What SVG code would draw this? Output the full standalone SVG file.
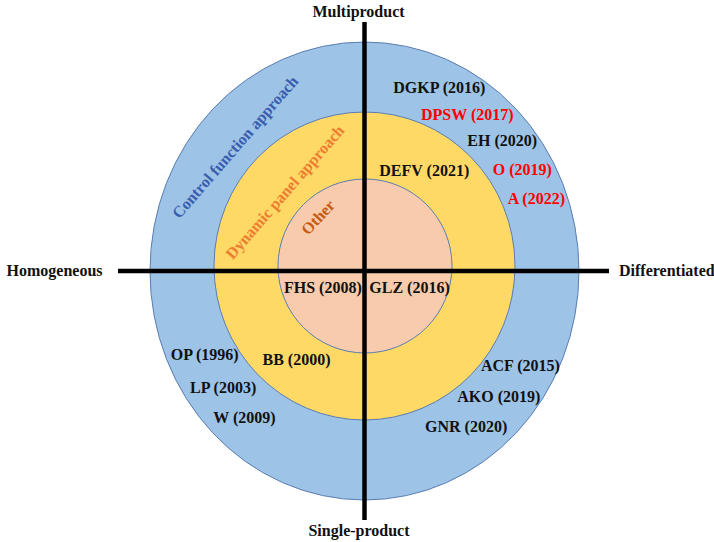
<svg xmlns="http://www.w3.org/2000/svg" width="714" height="542" viewBox="0 0 714 542">
<style>
  text { font-family: "Liberation Serif", "Times New Roman", serif; font-weight: bold; font-size: 16px; fill: #111; }
  .red { fill: #FF0000; }
  .ring { stroke: #5B7DB1; stroke-width: 1; }
  .axis { stroke: #000; stroke-width: 4.5; fill: none; }
</style>
<rect width="714" height="542" fill="#ffffff"/>
<g id="control-function">
  <ellipse class="ring" cx="364.5" cy="271" rx="214.5" ry="229" fill="#9DC3E6"/>
  <text transform="translate(239.2,150.6) rotate(-49)" text-anchor="middle" style="fill:#3A5DAE">Control function approach</text>
</g>
<g id="dynamic-panel">
  <ellipse class="ring" cx="364.5" cy="266" rx="150.5" ry="154" fill="#FFD966"/>
  <text transform="translate(289,195.6) rotate(-49)" text-anchor="middle" style="fill:#ED7D31">Dynamic panel approach</text>
</g>
<g id="other">
  <ellipse class="ring" cx="365" cy="266" rx="87" ry="87" fill="#F8CBAD"/>
  <text transform="translate(322,221) rotate(-47)" text-anchor="middle" style="fill:#C55A11">Other</text>
</g>
<g id="connectors">
  <line class="axis" x1="364.5" y1="22" x2="364.5" y2="520"/>
  <line class="axis" x1="118" y1="271" x2="609" y2="271"/>
</g>
<g id="axis-labels">
  <text x="358.5" y="17" text-anchor="middle">Multiproduct</text>
  <text x="6.5" y="275.5">Homogeneous</text>
  <text x="619" y="275.5">Differentiated</text>
  <text x="359" y="535.5" text-anchor="middle">Single-product</text>
</g>
<g id="studies">
  <text x="393.3" y="93">DGKP (2016)</text>
  <text x="421" y="119.5" class="red">DPSW (2017)</text>
  <text x="467.3" y="146">EH (2020)</text>
  <text x="379.3" y="176">DEFV (2021)</text>
  <text x="492.7" y="175" class="red">O (2019)</text>
  <text x="507.7" y="204" class="red">A (2022)</text>
  <text x="284" y="293">FHS (2008)</text>
  <text x="369.3" y="293">GLZ (2016)</text>
  <text x="170.7" y="360">OP (1996)</text>
  <text x="262.5" y="364.5">BB (2000)</text>
  <text x="190" y="392.5">LP (2003)</text>
  <text x="213.3" y="423">W (2009)</text>
  <text x="481" y="370.5">ACF (2015)</text>
  <text x="457.3" y="401.5">AKO (2019)</text>
  <text x="425" y="431.5">GNR (2020)</text>
</g>
</svg>
